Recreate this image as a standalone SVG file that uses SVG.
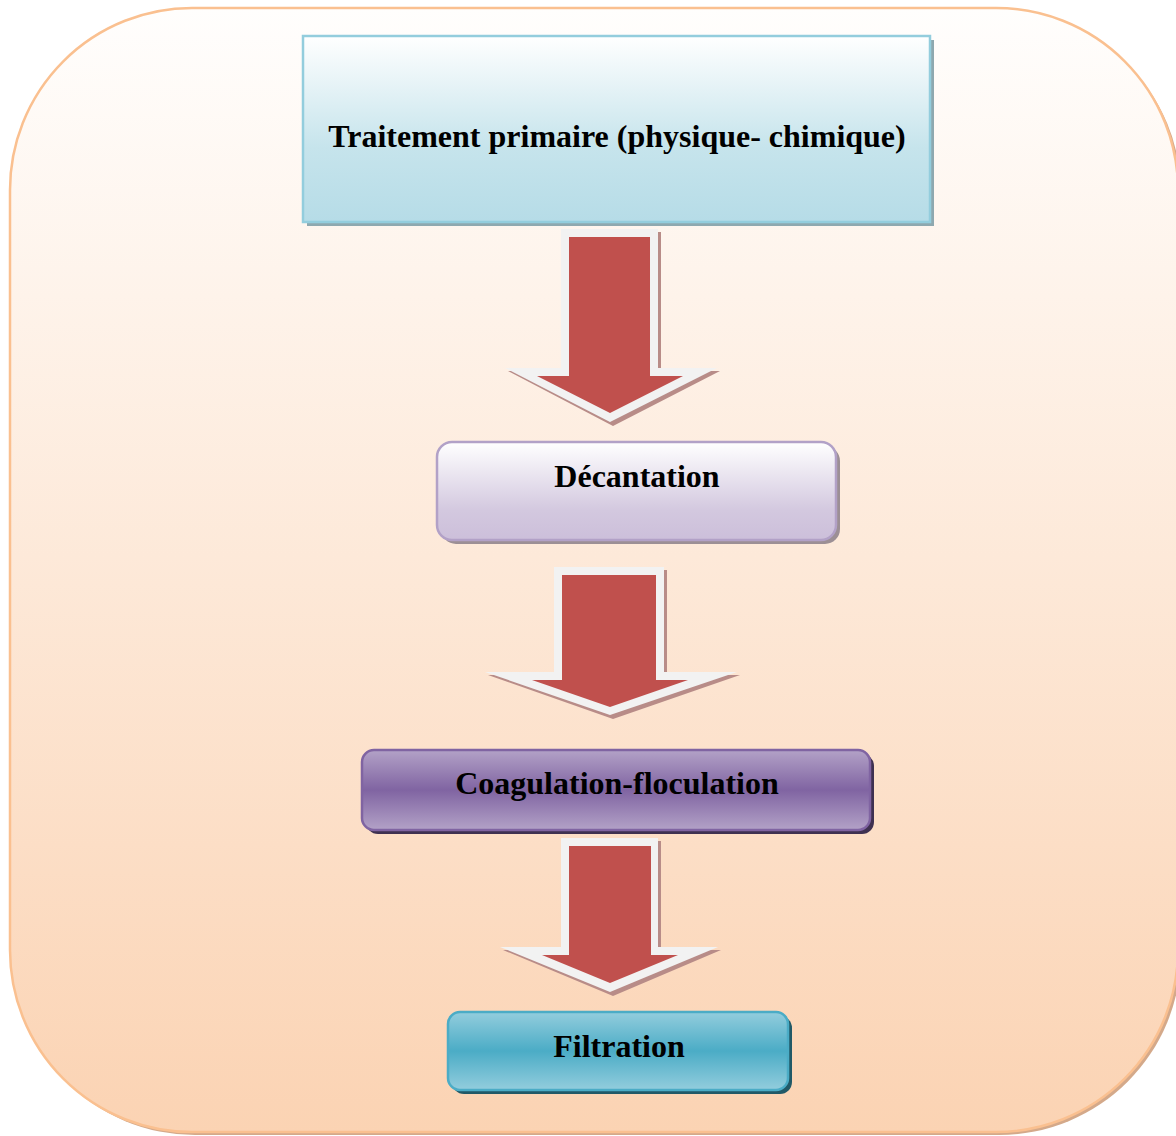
<svg xmlns="http://www.w3.org/2000/svg" width="1176" height="1136" viewBox="0 0 1176 1136">
<defs>
<linearGradient id="bg" x1="0" y1="0" x2="0" y2="1"><stop offset="0" stop-color="#fffefd"/><stop offset="1" stop-color="#fbd3b3"/></linearGradient>
<linearGradient id="g1" x1="0" y1="0" x2="0" y2="1"><stop offset="0" stop-color="#ffffff"/><stop offset="0.6" stop-color="#c6e4ec"/><stop offset="1" stop-color="#b6dce7"/></linearGradient>
<linearGradient id="g2" x1="0" y1="0" x2="0" y2="1"><stop offset="0" stop-color="#ffffff"/><stop offset="0.7" stop-color="#d3c8df"/><stop offset="1" stop-color="#ccbfda"/></linearGradient>
<linearGradient id="g3" x1="0" y1="0" x2="0" y2="1"><stop offset="0" stop-color="#b3a2c7"/><stop offset="0.5" stop-color="#8064a2"/><stop offset="1" stop-color="#b3a2c7"/></linearGradient>
<linearGradient id="g4" x1="0" y1="0" x2="0" y2="1"><stop offset="0" stop-color="#93cddd"/><stop offset="0.5" stop-color="#4bacc6"/><stop offset="1" stop-color="#93cddd"/></linearGradient>
</defs>
<style>
.lbl{font-family:"Liberation Serif","Times New Roman",serif;font-weight:bold;font-size:32px;fill:#000;text-anchor:middle}
.aw{fill:#f2f2f2}
.ar{fill:#c0504d}
.as{fill:#b88c88}
</style>
<g id="background">
<rect x="13" y="11" width="1168" height="1124" rx="182" ry="182" fill="#d4a98a"/>
<rect x="10" y="8" width="1168" height="1124" rx="182" ry="182" fill="url(#bg)" stroke="#fac090" stroke-width="2.5"/>
</g>
<g id="connectors">
<g id="arrow1">
<polygon class="as" points="564,232 661,232 661,371 720,371 613,426 508,371 564,371"/>
<polygon class="aw" points="561,229 658,229 658,368 717,368 610,422 505,368 561,368"/>
<polygon class="ar" points="569,237 650,237 650,376 683,376 610,413 537,376 569,376"/>
</g>
<g id="arrow2">
<polygon class="as" points="557,570 667,570 667,675 740,675 613,719 488,675 557,675"/>
<polygon class="aw" points="554,567 664,567 664,672 737,672 610,715 485,672 554,672"/>
<polygon class="ar" points="562,575 656,575 656,680 688,680 610,707 532,680 562,680"/>
</g>
<g id="arrow3">
<polygon class="as" points="564,841 661,841 661,950 721,950 613,996 503,950 564,950"/>
<polygon class="aw" points="561,838 658,838 658,947 718,947 610,992 500,947 561,947"/>
<polygon class="ar" points="569,846 651,846 651,955 678,955 610,983 542,955 569,955"/>
</g>
</g>
<g id="node1">
<rect x="307" y="40" width="627" height="186" fill="#8ea8af"/>
<rect x="303" y="36" width="627" height="186" fill="url(#g1)" stroke="#93cddd" stroke-width="2.5"/>
<text class="lbl" x="617" y="147">Traitement primaire (physique- chimique)</text>
</g>
<g id="node2">
<rect x="441" y="446" width="399" height="98" rx="15" fill="#9c8f95"/>
<rect x="437" y="442" width="399" height="98" rx="15" fill="url(#g2)" stroke="#b2a1c7" stroke-width="2.5"/>
<text class="lbl" x="637" y="487">Décantation</text>
</g>
<g id="node3">
<rect x="366" y="754" width="508" height="80" rx="12" fill="#3f3151"/>
<rect x="362" y="750" width="508" height="80" rx="12" fill="url(#g3)" stroke="#8064a2" stroke-width="2.5"/>
<text class="lbl" x="617" y="794">Coagulation-floculation</text>
</g>
<g id="node4">
<rect x="452" y="1016" width="340" height="78" rx="12" fill="#215967"/>
<rect x="448" y="1012" width="340" height="78" rx="12" fill="url(#g4)" stroke="#4bacc6" stroke-width="2.5"/>
<text class="lbl" x="619" y="1057">Filtration</text>
</g>
</svg>
